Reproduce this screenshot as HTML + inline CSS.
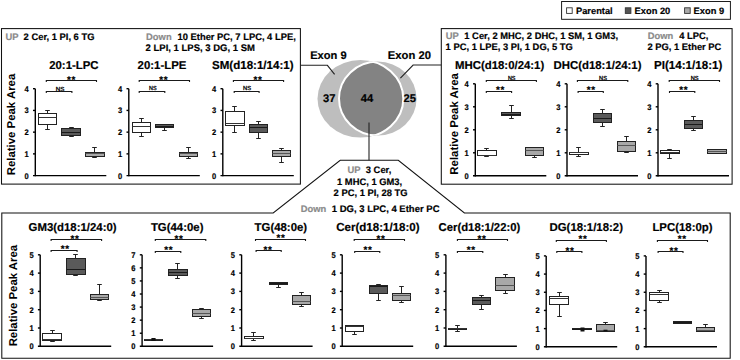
<!DOCTYPE html>
<html><head><meta charset="utf-8"><style>
html,body{margin:0;padding:0;background:#fff;width:740px;height:360px;overflow:hidden}
svg{display:block;font-family:"Liberation Sans", sans-serif;text-rendering:geometricPrecision}
</style></head><body>
<svg width="740" height="360" viewBox="0 0 740 360">
<rect width="740" height="360" fill="#fff"/>
<rect x="1.50" y="28.60" width="298.90" height="155.50" fill="none" stroke="#111" stroke-width="1.05"/>
<rect x="441.30" y="28.60" width="290.80" height="155.60" fill="none" stroke="#111" stroke-width="1.05"/>
<polygon points="1.80,212.90 273.20,212.90 340.20,160.30 398.30,160.30 464.40,212.90 730.20,212.90 730.20,358.30 1.80,358.30" fill="none" stroke="#111" stroke-width="1.05"/>
<rect x="561.60" y="1.50" width="168.80" height="17.80" fill="none" stroke="#111" stroke-width="0.95"/>
<rect x="566.60" y="7.80" width="5.60" height="5.60" fill="#fff" stroke="#333" stroke-width="0.9"/>
<text x="576.0" y="13.6" font-size="9.3" font-weight="bold" fill="#000" stroke="#000" stroke-width="0.18">Parental</text>
<rect x="625.30" y="7.80" width="5.60" height="5.60" fill="#555" stroke="#333" stroke-width="0.9"/>
<text x="634.6" y="13.6" font-size="9.3" font-weight="bold" fill="#000" stroke="#000" stroke-width="0.18">Exon 20</text>
<rect x="684.60" y="7.80" width="5.60" height="5.60" fill="#aaa" stroke="#333" stroke-width="0.9"/>
<text x="693.6" y="13.6" font-size="9.3" font-weight="bold" fill="#000" stroke="#000" stroke-width="0.18">Exon 9</text>
<text x="5.6" y="39.5" font-size="9.4" font-weight="bold" fill="#8a8a8a" stroke="#8a8a8a" stroke-width="0.18">UP</text>
<text x="23.6" y="39.6" font-size="9.4" font-weight="bold" fill="#000" stroke="#000" stroke-width="0.18">2 Cer, 1 PI, 6 TG</text>
<text x="146.1" y="39.5" font-size="9.4" font-weight="bold" fill="#8a8a8a" stroke="#8a8a8a" stroke-width="0.18">Down</text>
<text x="177.5" y="39.6" font-size="9.4" font-weight="bold" fill="#000" stroke="#000" stroke-width="0.18">10 Ether PC, 7 LPC, 4 LPE,</text>
<text x="145.6" y="51.0" font-size="9.5" font-weight="bold" fill="#000" stroke="#000" stroke-width="0.18">2 LPI, 1 LPS, 3 DG, 1 SM</text>
<text x="445.8" y="38.7" font-size="9.4" font-weight="bold" fill="#8a8a8a" stroke="#8a8a8a" stroke-width="0.18">UP</text>
<text x="464.3" y="38.8" font-size="9.4" font-weight="bold" fill="#000" stroke="#000" stroke-width="0.18">1 Cer, 2 MHC, 2 DHC, 1 SM, 1 GM3,</text>
<text x="445.6" y="50.2" font-size="9.4" font-weight="bold" fill="#000" stroke="#000" stroke-width="0.18">1 PC, 1 LPE, 3 PI, 1 DG, 5 TG</text>
<text x="647.8" y="38.6" font-size="9.4" font-weight="bold" fill="#8a8a8a" stroke="#8a8a8a" stroke-width="0.18">Down</text>
<text x="679.2" y="38.6" font-size="9.4" font-weight="bold" fill="#000" stroke="#000" stroke-width="0.18">4 LPC,</text>
<text x="647.4" y="50.2" font-size="9.4" font-weight="bold" fill="#000" stroke="#000" stroke-width="0.18">2 PG, 1 Ether PC</text>
<text x="0" y="0" font-size="11.4" font-weight="bold" text-anchor="middle" transform="translate(15.4,124.5) rotate(-90)">Relative Peak Area</text>
<text x="0" y="0" font-size="11.4" font-weight="bold" text-anchor="middle" transform="translate(458.2,123.9) rotate(-90)">Relative Peak Area</text>
<text x="0" y="0" font-size="11.4" font-weight="bold" text-anchor="middle" transform="translate(16.6,295.6) rotate(-90)">Relative Peak Area</text>
<line x1="35.3" y1="88.7" x2="35.3" y2="176.2" stroke="#000" stroke-width="1.4"/>
<line x1="33.0" y1="175.6" x2="106.3" y2="175.6" stroke="#000" stroke-width="1.4"/>
<text x="28.7" y="178.5" font-size="8.2" font-weight="bold" fill="#000" stroke="#000" stroke-width="0.18" text-anchor="end" textLength="4.2" lengthAdjust="spacingAndGlyphs">0</text>
<line x1="33.0" y1="153.875" x2="35.3" y2="153.875" stroke="#000" stroke-width="1.4"/>
<text x="28.7" y="156.78" font-size="8.2" font-weight="bold" fill="#000" stroke="#000" stroke-width="0.18" text-anchor="end" textLength="4.2" lengthAdjust="spacingAndGlyphs">1</text>
<line x1="33.0" y1="132.15" x2="35.3" y2="132.15" stroke="#000" stroke-width="1.4"/>
<text x="28.7" y="135.05" font-size="8.2" font-weight="bold" fill="#000" stroke="#000" stroke-width="0.18" text-anchor="end" textLength="4.2" lengthAdjust="spacingAndGlyphs">2</text>
<line x1="33.0" y1="110.425" x2="35.3" y2="110.425" stroke="#000" stroke-width="1.4"/>
<text x="28.7" y="113.33" font-size="8.2" font-weight="bold" fill="#000" stroke="#000" stroke-width="0.18" text-anchor="end" textLength="4.2" lengthAdjust="spacingAndGlyphs">3</text>
<line x1="33.0" y1="88.7" x2="35.3" y2="88.7" stroke="#000" stroke-width="1.4"/>
<text x="28.7" y="91.6" font-size="8.2" font-weight="bold" fill="#000" stroke="#000" stroke-width="0.18" text-anchor="end" textLength="4.2" lengthAdjust="spacingAndGlyphs">4</text>
<line x1="47.5" y1="110.5" x2="47.5" y2="113.5" stroke="#222" stroke-width="1"/>
<line x1="47.5" y1="124.5" x2="47.5" y2="129.5" stroke="#222" stroke-width="1"/>
<line x1="45.2" y1="110.5" x2="49.8" y2="110.5" stroke="#222" stroke-width="1"/>
<line x1="45.2" y1="129.5" x2="49.8" y2="129.5" stroke="#222" stroke-width="1"/>
<rect x="38.50" y="113.50" width="18.00" height="11.00" fill="#ffffff" stroke="#222" stroke-width="1"/>
<line x1="38.5" y1="117.5" x2="56.5" y2="117.5" stroke="#333" stroke-width="1"/>
<line x1="71.5" y1="127.5" x2="71.5" y2="128.5" stroke="#222" stroke-width="1"/>
<line x1="71.5" y1="135.5" x2="71.5" y2="136.5" stroke="#222" stroke-width="1"/>
<line x1="69.2" y1="127.5" x2="73.8" y2="127.5" stroke="#222" stroke-width="1"/>
<line x1="69.2" y1="136.5" x2="73.8" y2="136.5" stroke="#222" stroke-width="1"/>
<rect x="61.50" y="128.50" width="19.00" height="7.00" fill="#5a5a5a" stroke="#222" stroke-width="1"/>
<line x1="61.5" y1="132.5" x2="80.5" y2="132.5" stroke="#1a1a1a" stroke-width="1"/>
<line x1="94.5" y1="147.5" x2="94.5" y2="152.5" stroke="#222" stroke-width="1"/>
<line x1="94.5" y1="156.5" x2="94.5" y2="157.5" stroke="#222" stroke-width="1"/>
<line x1="92.2" y1="147.5" x2="96.8" y2="147.5" stroke="#222" stroke-width="1"/>
<line x1="92.2" y1="157.5" x2="96.8" y2="157.5" stroke="#222" stroke-width="1"/>
<rect x="85.50" y="152.50" width="19.00" height="4.00" fill="#a8a8a8" stroke="#222" stroke-width="1"/>
<line x1="85.5" y1="153.5" x2="104.5" y2="153.5" stroke="#555" stroke-width="1"/>
<polyline points="46.30,82.10 46.30,80.50 96.50,80.50 96.50,82.10" fill="none" stroke="#1a1a1a" stroke-width="1.1"/>
<text x="68.85" y="83.01" font-size="9.8" font-weight="bold" fill="#000" stroke="#000" stroke-width="0.18" text-anchor="middle">*</text>
<text x="73.35" y="83.01" font-size="9.8" font-weight="bold" fill="#000" stroke="#000" stroke-width="0.18" text-anchor="middle">*</text>
<polyline points="46.30,93.10 46.30,91.50 71.90,91.50 71.90,93.10" fill="none" stroke="#1a1a1a" stroke-width="1.1"/>
<text x="60.0" y="90.5" font-size="5.8" fill="#000" stroke="#000" stroke-width="0.3" text-anchor="middle" textLength="8.6" lengthAdjust="spacingAndGlyphs">NS</text>
<text x="49.2" y="69.0" font-size="11.4" font-weight="bold" fill="#000" stroke="#000" stroke-width="0.18">20:1-LPC</text>
<line x1="128.8" y1="88.7" x2="128.8" y2="176.2" stroke="#000" stroke-width="1.4"/>
<line x1="126.50000000000001" y1="175.6" x2="199.8" y2="175.6" stroke="#000" stroke-width="1.4"/>
<text x="122.2" y="178.5" font-size="8.2" font-weight="bold" fill="#000" stroke="#000" stroke-width="0.18" text-anchor="end" textLength="4.2" lengthAdjust="spacingAndGlyphs">0</text>
<line x1="126.50000000000001" y1="153.875" x2="128.8" y2="153.875" stroke="#000" stroke-width="1.4"/>
<text x="122.2" y="156.78" font-size="8.2" font-weight="bold" fill="#000" stroke="#000" stroke-width="0.18" text-anchor="end" textLength="4.2" lengthAdjust="spacingAndGlyphs">1</text>
<line x1="126.50000000000001" y1="132.15" x2="128.8" y2="132.15" stroke="#000" stroke-width="1.4"/>
<text x="122.2" y="135.05" font-size="8.2" font-weight="bold" fill="#000" stroke="#000" stroke-width="0.18" text-anchor="end" textLength="4.2" lengthAdjust="spacingAndGlyphs">2</text>
<line x1="126.50000000000001" y1="110.425" x2="128.8" y2="110.425" stroke="#000" stroke-width="1.4"/>
<text x="122.2" y="113.33" font-size="8.2" font-weight="bold" fill="#000" stroke="#000" stroke-width="0.18" text-anchor="end" textLength="4.2" lengthAdjust="spacingAndGlyphs">3</text>
<line x1="126.50000000000001" y1="88.7" x2="128.8" y2="88.7" stroke="#000" stroke-width="1.4"/>
<text x="122.2" y="91.6" font-size="8.2" font-weight="bold" fill="#000" stroke="#000" stroke-width="0.18" text-anchor="end" textLength="4.2" lengthAdjust="spacingAndGlyphs">4</text>
<line x1="141.5" y1="118.5" x2="141.5" y2="122.5" stroke="#222" stroke-width="1"/>
<line x1="141.5" y1="132.5" x2="141.5" y2="136.5" stroke="#222" stroke-width="1"/>
<line x1="139.2" y1="118.5" x2="143.8" y2="118.5" stroke="#222" stroke-width="1"/>
<line x1="139.2" y1="136.5" x2="143.8" y2="136.5" stroke="#222" stroke-width="1"/>
<rect x="132.50" y="122.50" width="18.00" height="10.00" fill="#ffffff" stroke="#222" stroke-width="1"/>
<line x1="132.5" y1="126.5" x2="150.5" y2="126.5" stroke="#333" stroke-width="1"/>
<line x1="164.5" y1="124.5" x2="164.5" y2="124.5" stroke="#222" stroke-width="1"/>
<line x1="164.5" y1="127.5" x2="164.5" y2="130.5" stroke="#222" stroke-width="1"/>
<line x1="162.2" y1="124.5" x2="166.8" y2="124.5" stroke="#222" stroke-width="1"/>
<line x1="162.2" y1="130.5" x2="166.8" y2="130.5" stroke="#222" stroke-width="1"/>
<rect x="155.50" y="124.50" width="18.00" height="3.00" fill="#5a5a5a" stroke="#222" stroke-width="1"/>
<line x1="155.5" y1="126.5" x2="173.5" y2="126.5" stroke="#1a1a1a" stroke-width="1"/>
<line x1="188.5" y1="147.5" x2="188.5" y2="152.5" stroke="#222" stroke-width="1"/>
<line x1="188.5" y1="156.5" x2="188.5" y2="158.5" stroke="#222" stroke-width="1"/>
<line x1="186.2" y1="147.5" x2="190.8" y2="147.5" stroke="#222" stroke-width="1"/>
<line x1="186.2" y1="158.5" x2="190.8" y2="158.5" stroke="#222" stroke-width="1"/>
<rect x="179.50" y="152.50" width="18.00" height="4.00" fill="#a8a8a8" stroke="#222" stroke-width="1"/>
<line x1="179.5" y1="153.5" x2="197.5" y2="153.5" stroke="#555" stroke-width="1"/>
<polyline points="139.20,82.10 139.20,80.50 189.50,80.50 189.50,82.10" fill="none" stroke="#1a1a1a" stroke-width="1.1"/>
<text x="161.1" y="82.91" font-size="9.8" font-weight="bold" fill="#000" stroke="#000" stroke-width="0.18" text-anchor="middle">*</text>
<text x="165.6" y="82.91" font-size="9.8" font-weight="bold" fill="#000" stroke="#000" stroke-width="0.18" text-anchor="middle">*</text>
<polyline points="139.20,93.10 139.20,91.50 164.80,91.50 164.80,93.10" fill="none" stroke="#1a1a1a" stroke-width="1.1"/>
<text x="152.85" y="90.4" font-size="5.8" fill="#000" stroke="#000" stroke-width="0.3" text-anchor="middle" textLength="7.5" lengthAdjust="spacingAndGlyphs">NS</text>
<text x="137.6" y="69.0" font-size="11.4" font-weight="bold" fill="#000" stroke="#000" stroke-width="0.18">20:1-LPE</text>
<line x1="222.8" y1="88.7" x2="222.8" y2="176.2" stroke="#000" stroke-width="1.4"/>
<line x1="220.5" y1="175.6" x2="293.8" y2="175.6" stroke="#000" stroke-width="1.4"/>
<text x="216.2" y="178.5" font-size="8.2" font-weight="bold" fill="#000" stroke="#000" stroke-width="0.18" text-anchor="end" textLength="4.2" lengthAdjust="spacingAndGlyphs">0</text>
<line x1="220.5" y1="153.875" x2="222.8" y2="153.875" stroke="#000" stroke-width="1.4"/>
<text x="216.2" y="156.78" font-size="8.2" font-weight="bold" fill="#000" stroke="#000" stroke-width="0.18" text-anchor="end" textLength="4.2" lengthAdjust="spacingAndGlyphs">1</text>
<line x1="220.5" y1="132.15" x2="222.8" y2="132.15" stroke="#000" stroke-width="1.4"/>
<text x="216.2" y="135.05" font-size="8.2" font-weight="bold" fill="#000" stroke="#000" stroke-width="0.18" text-anchor="end" textLength="4.2" lengthAdjust="spacingAndGlyphs">2</text>
<line x1="220.5" y1="110.425" x2="222.8" y2="110.425" stroke="#000" stroke-width="1.4"/>
<text x="216.2" y="113.33" font-size="8.2" font-weight="bold" fill="#000" stroke="#000" stroke-width="0.18" text-anchor="end" textLength="4.2" lengthAdjust="spacingAndGlyphs">3</text>
<line x1="220.5" y1="88.7" x2="222.8" y2="88.7" stroke="#000" stroke-width="1.4"/>
<text x="216.2" y="91.6" font-size="8.2" font-weight="bold" fill="#000" stroke="#000" stroke-width="0.18" text-anchor="end" textLength="4.2" lengthAdjust="spacingAndGlyphs">4</text>
<line x1="234.5" y1="106.5" x2="234.5" y2="111.5" stroke="#222" stroke-width="1"/>
<line x1="234.5" y1="125.5" x2="234.5" y2="132.5" stroke="#222" stroke-width="1"/>
<line x1="232.2" y1="106.5" x2="236.8" y2="106.5" stroke="#222" stroke-width="1"/>
<line x1="232.2" y1="132.5" x2="236.8" y2="132.5" stroke="#222" stroke-width="1"/>
<rect x="225.50" y="111.50" width="19.00" height="14.00" fill="#ffffff" stroke="#222" stroke-width="1"/>
<line x1="225.5" y1="123.5" x2="244.5" y2="123.5" stroke="#333" stroke-width="1"/>
<line x1="258.5" y1="121.5" x2="258.5" y2="124.5" stroke="#222" stroke-width="1"/>
<line x1="258.5" y1="132.5" x2="258.5" y2="138.5" stroke="#222" stroke-width="1"/>
<line x1="256.2" y1="121.5" x2="260.8" y2="121.5" stroke="#222" stroke-width="1"/>
<line x1="256.2" y1="138.5" x2="260.8" y2="138.5" stroke="#222" stroke-width="1"/>
<rect x="249.50" y="124.50" width="18.00" height="8.00" fill="#5a5a5a" stroke="#222" stroke-width="1"/>
<line x1="249.5" y1="127.5" x2="267.5" y2="127.5" stroke="#1a1a1a" stroke-width="1"/>
<line x1="281.5" y1="148.5" x2="281.5" y2="150.5" stroke="#222" stroke-width="1"/>
<line x1="281.5" y1="156.5" x2="281.5" y2="162.5" stroke="#222" stroke-width="1"/>
<line x1="279.2" y1="148.5" x2="283.8" y2="148.5" stroke="#222" stroke-width="1"/>
<line x1="279.2" y1="162.5" x2="283.8" y2="162.5" stroke="#222" stroke-width="1"/>
<rect x="272.50" y="150.50" width="18.00" height="6.00" fill="#a8a8a8" stroke="#222" stroke-width="1"/>
<line x1="272.5" y1="153.5" x2="290.5" y2="153.5" stroke="#555" stroke-width="1"/>
<polyline points="233.40,82.10 233.40,80.50 283.60,80.50 283.60,82.10" fill="none" stroke="#1a1a1a" stroke-width="1.1"/>
<text x="255.3" y="82.91" font-size="9.8" font-weight="bold" fill="#000" stroke="#000" stroke-width="0.18" text-anchor="middle">*</text>
<text x="259.8" y="82.91" font-size="9.8" font-weight="bold" fill="#000" stroke="#000" stroke-width="0.18" text-anchor="middle">*</text>
<polyline points="234.20,93.10 234.20,91.50 259.10,91.50 259.10,93.10" fill="none" stroke="#1a1a1a" stroke-width="1.1"/>
<text x="247.1" y="90.4" font-size="5.8" fill="#000" stroke="#000" stroke-width="0.3" text-anchor="middle" textLength="8.0" lengthAdjust="spacingAndGlyphs">NS</text>
<text x="212.0" y="69.0" font-size="11.55" font-weight="bold" fill="#000" stroke="#000" stroke-width="0.18">SM(d18:1/14:1)</text>
<line x1="475.3" y1="83.8" x2="475.3" y2="176.4" stroke="#000" stroke-width="1.4"/>
<line x1="473.0" y1="175.8" x2="546.3" y2="175.8" stroke="#000" stroke-width="1.4"/>
<text x="468.7" y="178.7" font-size="8.2" font-weight="bold" fill="#000" stroke="#000" stroke-width="0.18" text-anchor="end" textLength="4.2" lengthAdjust="spacingAndGlyphs">0</text>
<line x1="473.0" y1="152.8" x2="475.3" y2="152.8" stroke="#000" stroke-width="1.4"/>
<text x="468.7" y="155.7" font-size="8.2" font-weight="bold" fill="#000" stroke="#000" stroke-width="0.18" text-anchor="end" textLength="4.2" lengthAdjust="spacingAndGlyphs">1</text>
<line x1="473.0" y1="129.8" x2="475.3" y2="129.8" stroke="#000" stroke-width="1.4"/>
<text x="468.7" y="132.7" font-size="8.2" font-weight="bold" fill="#000" stroke="#000" stroke-width="0.18" text-anchor="end" textLength="4.2" lengthAdjust="spacingAndGlyphs">2</text>
<line x1="473.0" y1="106.8" x2="475.3" y2="106.8" stroke="#000" stroke-width="1.4"/>
<text x="468.7" y="109.7" font-size="8.2" font-weight="bold" fill="#000" stroke="#000" stroke-width="0.18" text-anchor="end" textLength="4.2" lengthAdjust="spacingAndGlyphs">3</text>
<line x1="473.0" y1="83.8" x2="475.3" y2="83.8" stroke="#000" stroke-width="1.4"/>
<text x="468.7" y="86.7" font-size="8.2" font-weight="bold" fill="#000" stroke="#000" stroke-width="0.18" text-anchor="end" textLength="4.2" lengthAdjust="spacingAndGlyphs">4</text>
<line x1="486.5" y1="148.5" x2="486.5" y2="150.5" stroke="#222" stroke-width="1"/>
<line x1="486.5" y1="155.5" x2="486.5" y2="156.5" stroke="#222" stroke-width="1"/>
<line x1="484.2" y1="148.5" x2="488.8" y2="148.5" stroke="#222" stroke-width="1"/>
<line x1="484.2" y1="156.5" x2="488.8" y2="156.5" stroke="#222" stroke-width="1"/>
<rect x="477.50" y="150.50" width="19.00" height="5.00" fill="#ffffff" stroke="#222" stroke-width="1"/>
<line x1="477.5" y1="155.5" x2="496.5" y2="155.5" stroke="#333" stroke-width="1"/>
<line x1="511.5" y1="105.5" x2="511.5" y2="112.5" stroke="#222" stroke-width="1"/>
<line x1="511.5" y1="115.5" x2="511.5" y2="118.5" stroke="#222" stroke-width="1"/>
<line x1="509.2" y1="105.5" x2="513.8" y2="105.5" stroke="#222" stroke-width="1"/>
<line x1="509.2" y1="118.5" x2="513.8" y2="118.5" stroke="#222" stroke-width="1"/>
<rect x="501.50" y="112.50" width="19.00" height="3.00" fill="#5a5a5a" stroke="#222" stroke-width="1"/>
<line x1="501.5" y1="114.5" x2="520.5" y2="114.5" stroke="#1a1a1a" stroke-width="1"/>
<line x1="534.5" y1="147.5" x2="534.5" y2="147.5" stroke="#222" stroke-width="1"/>
<line x1="534.5" y1="155.5" x2="534.5" y2="157.5" stroke="#222" stroke-width="1"/>
<line x1="532.2" y1="147.5" x2="536.8" y2="147.5" stroke="#222" stroke-width="1"/>
<line x1="532.2" y1="157.5" x2="536.8" y2="157.5" stroke="#222" stroke-width="1"/>
<rect x="525.50" y="147.50" width="18.00" height="8.00" fill="#a8a8a8" stroke="#222" stroke-width="1"/>
<line x1="525.5" y1="150.5" x2="543.5" y2="150.5" stroke="#555" stroke-width="1"/>
<polyline points="486.30,82.10 486.30,80.50 536.40,80.50 536.40,82.10" fill="none" stroke="#1a1a1a" stroke-width="1.1"/>
<text x="511.65" y="79.6" font-size="5.8" fill="#000" stroke="#000" stroke-width="0.3" text-anchor="middle" textLength="7.5" lengthAdjust="spacingAndGlyphs">NS</text>
<polyline points="486.30,93.10 486.30,91.50 511.60,91.50 511.60,93.10" fill="none" stroke="#1a1a1a" stroke-width="1.1"/>
<text x="498.0" y="92.91" font-size="9.8" font-weight="bold" fill="#000" stroke="#000" stroke-width="0.18" text-anchor="middle">*</text>
<text x="502.5" y="92.91" font-size="9.8" font-weight="bold" fill="#000" stroke="#000" stroke-width="0.18" text-anchor="middle">*</text>
<text x="455.0" y="69.0" font-size="11.4" font-weight="bold" fill="#000" stroke="#000" stroke-width="0.18">MHC(d18:0/24:1)</text>
<line x1="567.0" y1="83.8" x2="567.0" y2="176.4" stroke="#000" stroke-width="1.4"/>
<line x1="564.7" y1="175.8" x2="638.0" y2="175.8" stroke="#000" stroke-width="1.4"/>
<text x="560.4" y="178.7" font-size="8.2" font-weight="bold" fill="#000" stroke="#000" stroke-width="0.18" text-anchor="end" textLength="4.2" lengthAdjust="spacingAndGlyphs">0</text>
<line x1="564.7" y1="152.8" x2="567.0" y2="152.8" stroke="#000" stroke-width="1.4"/>
<text x="560.4" y="155.7" font-size="8.2" font-weight="bold" fill="#000" stroke="#000" stroke-width="0.18" text-anchor="end" textLength="4.2" lengthAdjust="spacingAndGlyphs">1</text>
<line x1="564.7" y1="129.8" x2="567.0" y2="129.8" stroke="#000" stroke-width="1.4"/>
<text x="560.4" y="132.7" font-size="8.2" font-weight="bold" fill="#000" stroke="#000" stroke-width="0.18" text-anchor="end" textLength="4.2" lengthAdjust="spacingAndGlyphs">2</text>
<line x1="564.7" y1="106.8" x2="567.0" y2="106.8" stroke="#000" stroke-width="1.4"/>
<text x="560.4" y="109.7" font-size="8.2" font-weight="bold" fill="#000" stroke="#000" stroke-width="0.18" text-anchor="end" textLength="4.2" lengthAdjust="spacingAndGlyphs">3</text>
<line x1="564.7" y1="83.8" x2="567.0" y2="83.8" stroke="#000" stroke-width="1.4"/>
<text x="560.4" y="86.7" font-size="8.2" font-weight="bold" fill="#000" stroke="#000" stroke-width="0.18" text-anchor="end" textLength="4.2" lengthAdjust="spacingAndGlyphs">4</text>
<line x1="578.5" y1="147.5" x2="578.5" y2="152.5" stroke="#222" stroke-width="1"/>
<line x1="578.5" y1="154.5" x2="578.5" y2="156.5" stroke="#222" stroke-width="1"/>
<line x1="576.2" y1="147.5" x2="580.8" y2="147.5" stroke="#222" stroke-width="1"/>
<line x1="576.2" y1="156.5" x2="580.8" y2="156.5" stroke="#222" stroke-width="1"/>
<rect x="569.50" y="152.50" width="19.00" height="2.00" fill="#ffffff" stroke="#222" stroke-width="1"/>
<line x1="569.5" y1="152.5" x2="588.5" y2="152.5" stroke="#333" stroke-width="1"/>
<line x1="602.5" y1="109.5" x2="602.5" y2="113.5" stroke="#222" stroke-width="1"/>
<line x1="602.5" y1="122.5" x2="602.5" y2="126.5" stroke="#222" stroke-width="1"/>
<line x1="600.2" y1="109.5" x2="604.8" y2="109.5" stroke="#222" stroke-width="1"/>
<line x1="600.2" y1="126.5" x2="604.8" y2="126.5" stroke="#222" stroke-width="1"/>
<rect x="593.50" y="113.50" width="18.00" height="9.00" fill="#5a5a5a" stroke="#222" stroke-width="1"/>
<line x1="593.5" y1="118.5" x2="611.5" y2="118.5" stroke="#1a1a1a" stroke-width="1"/>
<line x1="626.5" y1="136.5" x2="626.5" y2="141.5" stroke="#222" stroke-width="1"/>
<line x1="626.5" y1="151.5" x2="626.5" y2="152.5" stroke="#222" stroke-width="1"/>
<line x1="624.2" y1="136.5" x2="628.8" y2="136.5" stroke="#222" stroke-width="1"/>
<line x1="624.2" y1="152.5" x2="628.8" y2="152.5" stroke="#222" stroke-width="1"/>
<rect x="617.50" y="141.50" width="18.00" height="10.00" fill="#a8a8a8" stroke="#222" stroke-width="1"/>
<line x1="617.5" y1="145.5" x2="635.5" y2="145.5" stroke="#555" stroke-width="1"/>
<polyline points="577.40,82.10 577.40,80.50 627.80,80.50 627.80,82.10" fill="none" stroke="#1a1a1a" stroke-width="1.1"/>
<text x="603.0" y="79.5" font-size="5.8" fill="#000" stroke="#000" stroke-width="0.3" text-anchor="middle" textLength="7.8" lengthAdjust="spacingAndGlyphs">NS</text>
<polyline points="578.10,93.10 578.10,91.50 603.30,91.50 603.30,93.10" fill="none" stroke="#1a1a1a" stroke-width="1.1"/>
<text x="588.7" y="92.91" font-size="9.8" font-weight="bold" fill="#000" stroke="#000" stroke-width="0.18" text-anchor="middle">*</text>
<text x="593.2" y="92.91" font-size="9.8" font-weight="bold" fill="#000" stroke="#000" stroke-width="0.18" text-anchor="middle">*</text>
<text x="553.5" y="69.0" font-size="11.4" font-weight="bold" fill="#000" stroke="#000" stroke-width="0.18">DHC(d18:1/24:1)</text>
<line x1="658.0" y1="83.8" x2="658.0" y2="176.4" stroke="#000" stroke-width="1.4"/>
<line x1="655.7" y1="175.8" x2="729.0" y2="175.8" stroke="#000" stroke-width="1.4"/>
<text x="651.4" y="178.7" font-size="8.2" font-weight="bold" fill="#000" stroke="#000" stroke-width="0.18" text-anchor="end" textLength="4.2" lengthAdjust="spacingAndGlyphs">0</text>
<line x1="655.7" y1="152.8" x2="658.0" y2="152.8" stroke="#000" stroke-width="1.4"/>
<text x="651.4" y="155.7" font-size="8.2" font-weight="bold" fill="#000" stroke="#000" stroke-width="0.18" text-anchor="end" textLength="4.2" lengthAdjust="spacingAndGlyphs">1</text>
<line x1="655.7" y1="129.8" x2="658.0" y2="129.8" stroke="#000" stroke-width="1.4"/>
<text x="651.4" y="132.7" font-size="8.2" font-weight="bold" fill="#000" stroke="#000" stroke-width="0.18" text-anchor="end" textLength="4.2" lengthAdjust="spacingAndGlyphs">2</text>
<line x1="655.7" y1="106.8" x2="658.0" y2="106.8" stroke="#000" stroke-width="1.4"/>
<text x="651.4" y="109.7" font-size="8.2" font-weight="bold" fill="#000" stroke="#000" stroke-width="0.18" text-anchor="end" textLength="4.2" lengthAdjust="spacingAndGlyphs">3</text>
<line x1="655.7" y1="83.8" x2="658.0" y2="83.8" stroke="#000" stroke-width="1.4"/>
<text x="651.4" y="86.7" font-size="8.2" font-weight="bold" fill="#000" stroke="#000" stroke-width="0.18" text-anchor="end" textLength="4.2" lengthAdjust="spacingAndGlyphs">4</text>
<line x1="669.5" y1="149.5" x2="669.5" y2="150.5" stroke="#222" stroke-width="1"/>
<line x1="669.5" y1="153.5" x2="669.5" y2="158.5" stroke="#222" stroke-width="1"/>
<line x1="667.2" y1="149.5" x2="671.8" y2="149.5" stroke="#222" stroke-width="1"/>
<line x1="667.2" y1="158.5" x2="671.8" y2="158.5" stroke="#222" stroke-width="1"/>
<rect x="660.50" y="150.50" width="19.00" height="3.00" fill="#ffffff" stroke="#222" stroke-width="1"/>
<line x1="660.5" y1="152.5" x2="679.5" y2="152.5" stroke="#333" stroke-width="1"/>
<line x1="693.5" y1="116.5" x2="693.5" y2="120.5" stroke="#222" stroke-width="1"/>
<line x1="693.5" y1="128.5" x2="693.5" y2="130.5" stroke="#222" stroke-width="1"/>
<line x1="691.2" y1="116.5" x2="695.8" y2="116.5" stroke="#222" stroke-width="1"/>
<line x1="691.2" y1="130.5" x2="695.8" y2="130.5" stroke="#222" stroke-width="1"/>
<rect x="684.50" y="120.50" width="18.00" height="8.00" fill="#5a5a5a" stroke="#222" stroke-width="1"/>
<line x1="684.5" y1="124.5" x2="702.5" y2="124.5" stroke="#1a1a1a" stroke-width="1"/>
<line x1="716.5" y1="149.5" x2="716.5" y2="149.5" stroke="#222" stroke-width="1"/>
<line x1="716.5" y1="153.5" x2="716.5" y2="153.5" stroke="#222" stroke-width="1"/>
<line x1="714.2" y1="149.5" x2="718.8" y2="149.5" stroke="#222" stroke-width="1"/>
<line x1="714.2" y1="153.5" x2="718.8" y2="153.5" stroke="#222" stroke-width="1"/>
<rect x="707.50" y="149.50" width="19.00" height="4.00" fill="#a8a8a8" stroke="#222" stroke-width="1"/>
<line x1="707.5" y1="151.5" x2="726.5" y2="151.5" stroke="#555" stroke-width="1"/>
<polyline points="669.20,82.10 669.20,80.50 719.50,80.50 719.50,82.10" fill="none" stroke="#1a1a1a" stroke-width="1.1"/>
<text x="694.6" y="79.5" font-size="5.8" fill="#000" stroke="#000" stroke-width="0.3" text-anchor="middle" textLength="7.8" lengthAdjust="spacingAndGlyphs">NS</text>
<polyline points="669.50,93.10 669.50,91.50 694.80,91.50 694.80,93.10" fill="none" stroke="#1a1a1a" stroke-width="1.1"/>
<text x="681.15" y="93.11" font-size="9.8" font-weight="bold" fill="#000" stroke="#000" stroke-width="0.18" text-anchor="middle">*</text>
<text x="685.65" y="93.11" font-size="9.8" font-weight="bold" fill="#000" stroke="#000" stroke-width="0.18" text-anchor="middle">*</text>
<text x="654.0" y="69.0" font-size="11.6" font-weight="bold" fill="#000" stroke="#000" stroke-width="0.18">PI(14:1/18:1)</text>
<line x1="40.2" y1="254.8" x2="40.2" y2="346.90000000000003" stroke="#000" stroke-width="1.4"/>
<line x1="37.900000000000006" y1="346.3" x2="111.2" y2="346.3" stroke="#000" stroke-width="1.4"/>
<text x="33.6" y="349.2" font-size="8.2" font-weight="bold" fill="#000" stroke="#000" stroke-width="0.18" text-anchor="end" textLength="4.2" lengthAdjust="spacingAndGlyphs">0</text>
<line x1="37.900000000000006" y1="328.0" x2="40.2" y2="328.0" stroke="#000" stroke-width="1.4"/>
<text x="33.6" y="330.9" font-size="8.2" font-weight="bold" fill="#000" stroke="#000" stroke-width="0.18" text-anchor="end" textLength="4.2" lengthAdjust="spacingAndGlyphs">1</text>
<line x1="37.900000000000006" y1="309.7" x2="40.2" y2="309.7" stroke="#000" stroke-width="1.4"/>
<text x="33.6" y="312.6" font-size="8.2" font-weight="bold" fill="#000" stroke="#000" stroke-width="0.18" text-anchor="end" textLength="4.2" lengthAdjust="spacingAndGlyphs">2</text>
<line x1="37.900000000000006" y1="291.4" x2="40.2" y2="291.4" stroke="#000" stroke-width="1.4"/>
<text x="33.6" y="294.3" font-size="8.2" font-weight="bold" fill="#000" stroke="#000" stroke-width="0.18" text-anchor="end" textLength="4.2" lengthAdjust="spacingAndGlyphs">3</text>
<line x1="37.900000000000006" y1="273.1" x2="40.2" y2="273.1" stroke="#000" stroke-width="1.4"/>
<text x="33.6" y="276.0" font-size="8.2" font-weight="bold" fill="#000" stroke="#000" stroke-width="0.18" text-anchor="end" textLength="4.2" lengthAdjust="spacingAndGlyphs">4</text>
<line x1="37.900000000000006" y1="254.8" x2="40.2" y2="254.8" stroke="#000" stroke-width="1.4"/>
<text x="33.6" y="257.7" font-size="8.2" font-weight="bold" fill="#000" stroke="#000" stroke-width="0.18" text-anchor="end" textLength="4.2" lengthAdjust="spacingAndGlyphs">5</text>
<line x1="52.5" y1="330.5" x2="52.5" y2="333.5" stroke="#222" stroke-width="1"/>
<line x1="52.5" y1="340.5" x2="52.5" y2="341.5" stroke="#222" stroke-width="1"/>
<line x1="50.2" y1="330.5" x2="54.8" y2="330.5" stroke="#222" stroke-width="1"/>
<line x1="50.2" y1="341.5" x2="54.8" y2="341.5" stroke="#222" stroke-width="1"/>
<rect x="42.50" y="333.50" width="19.00" height="7.00" fill="#ffffff" stroke="#222" stroke-width="1"/>
<line x1="42.5" y1="339.5" x2="61.5" y2="339.5" stroke="#333" stroke-width="1"/>
<line x1="75.5" y1="254.5" x2="75.5" y2="258.5" stroke="#222" stroke-width="1"/>
<line x1="75.5" y1="274.5" x2="75.5" y2="275.5" stroke="#222" stroke-width="1"/>
<line x1="73.2" y1="254.5" x2="77.8" y2="254.5" stroke="#222" stroke-width="1"/>
<line x1="73.2" y1="275.5" x2="77.8" y2="275.5" stroke="#222" stroke-width="1"/>
<rect x="66.50" y="258.50" width="19.00" height="16.00" fill="#5a5a5a" stroke="#222" stroke-width="1"/>
<line x1="66.5" y1="269.5" x2="85.5" y2="269.5" stroke="#1a1a1a" stroke-width="1"/>
<line x1="99.5" y1="284.5" x2="99.5" y2="294.5" stroke="#222" stroke-width="1"/>
<line x1="99.5" y1="299.5" x2="99.5" y2="300.5" stroke="#222" stroke-width="1"/>
<line x1="97.2" y1="284.5" x2="101.8" y2="284.5" stroke="#222" stroke-width="1"/>
<line x1="97.2" y1="300.5" x2="101.8" y2="300.5" stroke="#222" stroke-width="1"/>
<rect x="90.50" y="294.50" width="18.00" height="5.00" fill="#a8a8a8" stroke="#222" stroke-width="1"/>
<line x1="90.5" y1="297.5" x2="108.5" y2="297.5" stroke="#555" stroke-width="1"/>
<polyline points="51.10,241.10 51.10,239.50 101.60,239.50 101.60,241.10" fill="none" stroke="#1a1a1a" stroke-width="1.1"/>
<text x="72.35" y="241.51" font-size="9.8" font-weight="bold" fill="#000" stroke="#000" stroke-width="0.18" text-anchor="middle">*</text>
<text x="76.85" y="241.51" font-size="9.8" font-weight="bold" fill="#000" stroke="#000" stroke-width="0.18" text-anchor="middle">*</text>
<polyline points="51.10,252.10 51.10,250.50 77.10,250.50 77.10,252.10" fill="none" stroke="#1a1a1a" stroke-width="1.1"/>
<text x="62.7" y="252.11" font-size="9.8" font-weight="bold" fill="#000" stroke="#000" stroke-width="0.18" text-anchor="middle">*</text>
<text x="67.2" y="252.11" font-size="9.8" font-weight="bold" fill="#000" stroke="#000" stroke-width="0.18" text-anchor="middle">*</text>
<text x="28.6" y="230.6" font-size="11.4" font-weight="bold" fill="#000" stroke="#000" stroke-width="0.18">GM3(d18:1/24:0)</text>
<line x1="142.1" y1="254.8" x2="142.1" y2="346.90000000000003" stroke="#000" stroke-width="1.4"/>
<line x1="139.79999999999998" y1="346.3" x2="213.1" y2="346.3" stroke="#000" stroke-width="1.4"/>
<text x="135.5" y="349.2" font-size="8.2" font-weight="bold" fill="#000" stroke="#000" stroke-width="0.18" text-anchor="end" textLength="4.2" lengthAdjust="spacingAndGlyphs">0</text>
<line x1="139.79999999999998" y1="333.22857142857146" x2="142.1" y2="333.22857142857146" stroke="#000" stroke-width="1.4"/>
<text x="135.5" y="336.13" font-size="8.2" font-weight="bold" fill="#000" stroke="#000" stroke-width="0.18" text-anchor="end" textLength="4.2" lengthAdjust="spacingAndGlyphs">1</text>
<line x1="139.79999999999998" y1="320.15714285714284" x2="142.1" y2="320.15714285714284" stroke="#000" stroke-width="1.4"/>
<text x="135.5" y="323.06" font-size="8.2" font-weight="bold" fill="#000" stroke="#000" stroke-width="0.18" text-anchor="end" textLength="4.2" lengthAdjust="spacingAndGlyphs">2</text>
<line x1="139.79999999999998" y1="307.0857142857143" x2="142.1" y2="307.0857142857143" stroke="#000" stroke-width="1.4"/>
<text x="135.5" y="309.99" font-size="8.2" font-weight="bold" fill="#000" stroke="#000" stroke-width="0.18" text-anchor="end" textLength="4.2" lengthAdjust="spacingAndGlyphs">3</text>
<line x1="139.79999999999998" y1="294.01428571428573" x2="142.1" y2="294.01428571428573" stroke="#000" stroke-width="1.4"/>
<text x="135.5" y="296.91" font-size="8.2" font-weight="bold" fill="#000" stroke="#000" stroke-width="0.18" text-anchor="end" textLength="4.2" lengthAdjust="spacingAndGlyphs">4</text>
<line x1="139.79999999999998" y1="280.9428571428572" x2="142.1" y2="280.9428571428572" stroke="#000" stroke-width="1.4"/>
<text x="135.5" y="283.84" font-size="8.2" font-weight="bold" fill="#000" stroke="#000" stroke-width="0.18" text-anchor="end" textLength="4.2" lengthAdjust="spacingAndGlyphs">5</text>
<line x1="139.79999999999998" y1="267.87142857142857" x2="142.1" y2="267.87142857142857" stroke="#000" stroke-width="1.4"/>
<text x="135.5" y="270.77" font-size="8.2" font-weight="bold" fill="#000" stroke="#000" stroke-width="0.18" text-anchor="end" textLength="4.2" lengthAdjust="spacingAndGlyphs">6</text>
<line x1="139.79999999999998" y1="254.8" x2="142.1" y2="254.8" stroke="#000" stroke-width="1.4"/>
<text x="135.5" y="257.7" font-size="8.2" font-weight="bold" fill="#000" stroke="#000" stroke-width="0.18" text-anchor="end" textLength="4.2" lengthAdjust="spacingAndGlyphs">7</text>
<line x1="153.5" y1="339.5" x2="153.5" y2="339.5" stroke="#222" stroke-width="1"/>
<line x1="153.5" y1="340.5" x2="153.5" y2="340.5" stroke="#222" stroke-width="1"/>
<line x1="151.2" y1="339.5" x2="155.8" y2="339.5" stroke="#222" stroke-width="1"/>
<line x1="151.2" y1="340.5" x2="155.8" y2="340.5" stroke="#222" stroke-width="1"/>
<rect x="144.50" y="339.50" width="18.00" height="1.00" fill="#ffffff" stroke="#222" stroke-width="1"/>
<line x1="144.5" y1="339.5" x2="162.5" y2="339.5" stroke="#333" stroke-width="1"/>
<rect x="151.40" y="338.00" width="4.2" height="3.0" fill="#111"/>
<line x1="177.5" y1="263.5" x2="177.5" y2="269.5" stroke="#222" stroke-width="1"/>
<line x1="177.5" y1="275.5" x2="177.5" y2="278.5" stroke="#222" stroke-width="1"/>
<line x1="175.2" y1="263.5" x2="179.8" y2="263.5" stroke="#222" stroke-width="1"/>
<line x1="175.2" y1="278.5" x2="179.8" y2="278.5" stroke="#222" stroke-width="1"/>
<rect x="168.50" y="269.50" width="19.00" height="6.00" fill="#5a5a5a" stroke="#222" stroke-width="1"/>
<line x1="168.5" y1="272.5" x2="187.5" y2="272.5" stroke="#1a1a1a" stroke-width="1"/>
<line x1="201.5" y1="308.5" x2="201.5" y2="309.5" stroke="#222" stroke-width="1"/>
<line x1="201.5" y1="316.5" x2="201.5" y2="318.5" stroke="#222" stroke-width="1"/>
<line x1="199.2" y1="308.5" x2="203.8" y2="308.5" stroke="#222" stroke-width="1"/>
<line x1="199.2" y1="318.5" x2="203.8" y2="318.5" stroke="#222" stroke-width="1"/>
<rect x="192.50" y="309.50" width="18.00" height="7.00" fill="#a8a8a8" stroke="#222" stroke-width="1"/>
<line x1="192.5" y1="313.5" x2="210.5" y2="313.5" stroke="#555" stroke-width="1"/>
<polyline points="155.30,241.10 155.30,239.50 205.80,239.50 205.80,241.10" fill="none" stroke="#1a1a1a" stroke-width="1.1"/>
<text x="176.5" y="241.71" font-size="9.8" font-weight="bold" fill="#000" stroke="#000" stroke-width="0.18" text-anchor="middle">*</text>
<text x="181.0" y="241.71" font-size="9.8" font-weight="bold" fill="#000" stroke="#000" stroke-width="0.18" text-anchor="middle">*</text>
<polyline points="155.30,253.10 155.30,251.50 180.80,251.50 180.80,253.10" fill="none" stroke="#1a1a1a" stroke-width="1.1"/>
<text x="166.2" y="253.11" font-size="9.8" font-weight="bold" fill="#000" stroke="#000" stroke-width="0.18" text-anchor="middle">*</text>
<text x="170.7" y="253.11" font-size="9.8" font-weight="bold" fill="#000" stroke="#000" stroke-width="0.18" text-anchor="middle">*</text>
<text x="150.9" y="230.6" font-size="11.4" font-weight="bold" fill="#000" stroke="#000" stroke-width="0.18">TG(44:0e)</text>
<line x1="241.6" y1="254.8" x2="241.6" y2="346.90000000000003" stroke="#000" stroke-width="1.4"/>
<line x1="239.29999999999998" y1="346.3" x2="312.6" y2="346.3" stroke="#000" stroke-width="1.4"/>
<text x="235.0" y="349.2" font-size="8.2" font-weight="bold" fill="#000" stroke="#000" stroke-width="0.18" text-anchor="end" textLength="4.2" lengthAdjust="spacingAndGlyphs">0</text>
<line x1="239.29999999999998" y1="328.0" x2="241.6" y2="328.0" stroke="#000" stroke-width="1.4"/>
<text x="235.0" y="330.9" font-size="8.2" font-weight="bold" fill="#000" stroke="#000" stroke-width="0.18" text-anchor="end" textLength="4.2" lengthAdjust="spacingAndGlyphs">1</text>
<line x1="239.29999999999998" y1="309.7" x2="241.6" y2="309.7" stroke="#000" stroke-width="1.4"/>
<text x="235.0" y="312.6" font-size="8.2" font-weight="bold" fill="#000" stroke="#000" stroke-width="0.18" text-anchor="end" textLength="4.2" lengthAdjust="spacingAndGlyphs">2</text>
<line x1="239.29999999999998" y1="291.4" x2="241.6" y2="291.4" stroke="#000" stroke-width="1.4"/>
<text x="235.0" y="294.3" font-size="8.2" font-weight="bold" fill="#000" stroke="#000" stroke-width="0.18" text-anchor="end" textLength="4.2" lengthAdjust="spacingAndGlyphs">3</text>
<line x1="239.29999999999998" y1="273.1" x2="241.6" y2="273.1" stroke="#000" stroke-width="1.4"/>
<text x="235.0" y="276.0" font-size="8.2" font-weight="bold" fill="#000" stroke="#000" stroke-width="0.18" text-anchor="end" textLength="4.2" lengthAdjust="spacingAndGlyphs">4</text>
<line x1="239.29999999999998" y1="254.8" x2="241.6" y2="254.8" stroke="#000" stroke-width="1.4"/>
<text x="235.0" y="257.7" font-size="8.2" font-weight="bold" fill="#000" stroke="#000" stroke-width="0.18" text-anchor="end" textLength="4.2" lengthAdjust="spacingAndGlyphs">5</text>
<line x1="253.5" y1="332.5" x2="253.5" y2="336.5" stroke="#222" stroke-width="1"/>
<line x1="253.5" y1="338.5" x2="253.5" y2="340.5" stroke="#222" stroke-width="1"/>
<line x1="251.2" y1="332.5" x2="255.8" y2="332.5" stroke="#222" stroke-width="1"/>
<line x1="251.2" y1="340.5" x2="255.8" y2="340.5" stroke="#222" stroke-width="1"/>
<rect x="244.50" y="336.50" width="19.00" height="2.00" fill="#ffffff" stroke="#222" stroke-width="1"/>
<line x1="244.5" y1="338.5" x2="263.5" y2="338.5" stroke="#333" stroke-width="1"/>
<line x1="278.5" y1="282.5" x2="278.5" y2="282.5" stroke="#222" stroke-width="1"/>
<line x1="278.5" y1="284.5" x2="278.5" y2="287.5" stroke="#222" stroke-width="1"/>
<line x1="276.2" y1="282.5" x2="280.8" y2="282.5" stroke="#222" stroke-width="1"/>
<line x1="276.2" y1="287.5" x2="280.8" y2="287.5" stroke="#222" stroke-width="1"/>
<rect x="269.50" y="282.50" width="18.00" height="2.00" fill="#5a5a5a" stroke="#222" stroke-width="1"/>
<line x1="269.5" y1="283.5" x2="287.5" y2="283.5" stroke="#1a1a1a" stroke-width="1"/>
<line x1="301.5" y1="292.5" x2="301.5" y2="295.5" stroke="#222" stroke-width="1"/>
<line x1="301.5" y1="304.5" x2="301.5" y2="306.5" stroke="#222" stroke-width="1"/>
<line x1="299.2" y1="292.5" x2="303.8" y2="292.5" stroke="#222" stroke-width="1"/>
<line x1="299.2" y1="306.5" x2="303.8" y2="306.5" stroke="#222" stroke-width="1"/>
<rect x="292.50" y="295.50" width="18.00" height="9.00" fill="#a8a8a8" stroke="#222" stroke-width="1"/>
<line x1="292.5" y1="301.5" x2="310.5" y2="301.5" stroke="#555" stroke-width="1"/>
<polyline points="255.50,241.10 255.50,239.50 305.50,239.50 305.50,241.10" fill="none" stroke="#1a1a1a" stroke-width="1.1"/>
<text x="278.45" y="241.41" font-size="9.8" font-weight="bold" fill="#000" stroke="#000" stroke-width="0.18" text-anchor="middle">*</text>
<text x="282.95" y="241.41" font-size="9.8" font-weight="bold" fill="#000" stroke="#000" stroke-width="0.18" text-anchor="middle">*</text>
<polyline points="256.10,252.10 256.10,250.50 281.20,250.50 281.20,252.10" fill="none" stroke="#1a1a1a" stroke-width="1.1"/>
<text x="265.3" y="252.71" font-size="9.8" font-weight="bold" fill="#000" stroke="#000" stroke-width="0.18" text-anchor="middle">*</text>
<text x="269.8" y="252.71" font-size="9.8" font-weight="bold" fill="#000" stroke="#000" stroke-width="0.18" text-anchor="middle">*</text>
<text x="254.6" y="230.6" font-size="11.4" font-weight="bold" fill="#000" stroke="#000" stroke-width="0.18">TG(48:0e)</text>
<line x1="342.2" y1="254.8" x2="342.2" y2="346.90000000000003" stroke="#000" stroke-width="1.4"/>
<line x1="339.9" y1="346.3" x2="413.2" y2="346.3" stroke="#000" stroke-width="1.4"/>
<text x="335.6" y="349.2" font-size="8.2" font-weight="bold" fill="#000" stroke="#000" stroke-width="0.18" text-anchor="end" textLength="4.2" lengthAdjust="spacingAndGlyphs">0</text>
<line x1="339.9" y1="328.0" x2="342.2" y2="328.0" stroke="#000" stroke-width="1.4"/>
<text x="335.6" y="330.9" font-size="8.2" font-weight="bold" fill="#000" stroke="#000" stroke-width="0.18" text-anchor="end" textLength="4.2" lengthAdjust="spacingAndGlyphs">1</text>
<line x1="339.9" y1="309.7" x2="342.2" y2="309.7" stroke="#000" stroke-width="1.4"/>
<text x="335.6" y="312.6" font-size="8.2" font-weight="bold" fill="#000" stroke="#000" stroke-width="0.18" text-anchor="end" textLength="4.2" lengthAdjust="spacingAndGlyphs">2</text>
<line x1="339.9" y1="291.4" x2="342.2" y2="291.4" stroke="#000" stroke-width="1.4"/>
<text x="335.6" y="294.3" font-size="8.2" font-weight="bold" fill="#000" stroke="#000" stroke-width="0.18" text-anchor="end" textLength="4.2" lengthAdjust="spacingAndGlyphs">3</text>
<line x1="339.9" y1="273.1" x2="342.2" y2="273.1" stroke="#000" stroke-width="1.4"/>
<text x="335.6" y="276.0" font-size="8.2" font-weight="bold" fill="#000" stroke="#000" stroke-width="0.18" text-anchor="end" textLength="4.2" lengthAdjust="spacingAndGlyphs">4</text>
<line x1="339.9" y1="254.8" x2="342.2" y2="254.8" stroke="#000" stroke-width="1.4"/>
<text x="335.6" y="257.7" font-size="8.2" font-weight="bold" fill="#000" stroke="#000" stroke-width="0.18" text-anchor="end" textLength="4.2" lengthAdjust="spacingAndGlyphs">5</text>
<line x1="354.5" y1="325.5" x2="354.5" y2="325.5" stroke="#222" stroke-width="1"/>
<line x1="354.5" y1="331.5" x2="354.5" y2="334.5" stroke="#222" stroke-width="1"/>
<line x1="352.2" y1="325.5" x2="356.8" y2="325.5" stroke="#222" stroke-width="1"/>
<line x1="352.2" y1="334.5" x2="356.8" y2="334.5" stroke="#222" stroke-width="1"/>
<rect x="345.50" y="325.50" width="18.00" height="6.00" fill="#ffffff" stroke="#222" stroke-width="1"/>
<line x1="345.5" y1="326.5" x2="363.5" y2="326.5" stroke="#333" stroke-width="1"/>
<line x1="378.5" y1="284.5" x2="378.5" y2="285.5" stroke="#222" stroke-width="1"/>
<line x1="378.5" y1="293.5" x2="378.5" y2="300.5" stroke="#222" stroke-width="1"/>
<line x1="376.2" y1="284.5" x2="380.8" y2="284.5" stroke="#222" stroke-width="1"/>
<line x1="376.2" y1="300.5" x2="380.8" y2="300.5" stroke="#222" stroke-width="1"/>
<rect x="369.50" y="285.50" width="18.00" height="8.00" fill="#5a5a5a" stroke="#222" stroke-width="1"/>
<line x1="369.5" y1="286.5" x2="387.5" y2="286.5" stroke="#1a1a1a" stroke-width="1"/>
<line x1="401.5" y1="286.5" x2="401.5" y2="293.5" stroke="#222" stroke-width="1"/>
<line x1="401.5" y1="300.5" x2="401.5" y2="302.5" stroke="#222" stroke-width="1"/>
<line x1="399.2" y1="286.5" x2="403.8" y2="286.5" stroke="#222" stroke-width="1"/>
<line x1="399.2" y1="302.5" x2="403.8" y2="302.5" stroke="#222" stroke-width="1"/>
<rect x="392.50" y="293.50" width="18.00" height="7.00" fill="#a8a8a8" stroke="#222" stroke-width="1"/>
<line x1="392.5" y1="295.5" x2="410.5" y2="295.5" stroke="#555" stroke-width="1"/>
<polyline points="354.20,241.10 354.20,239.50 404.50,239.50 404.50,241.10" fill="none" stroke="#1a1a1a" stroke-width="1.1"/>
<text x="378.35" y="241.61" font-size="9.8" font-weight="bold" fill="#000" stroke="#000" stroke-width="0.18" text-anchor="middle">*</text>
<text x="382.85" y="241.61" font-size="9.8" font-weight="bold" fill="#000" stroke="#000" stroke-width="0.18" text-anchor="middle">*</text>
<polyline points="354.70,253.10 354.70,251.50 379.80,251.50 379.80,253.10" fill="none" stroke="#1a1a1a" stroke-width="1.1"/>
<text x="365.3" y="253.31" font-size="9.8" font-weight="bold" fill="#000" stroke="#000" stroke-width="0.18" text-anchor="middle">*</text>
<text x="369.8" y="253.31" font-size="9.8" font-weight="bold" fill="#000" stroke="#000" stroke-width="0.18" text-anchor="middle">*</text>
<text x="336.2" y="230.6" font-size="11.55" font-weight="bold" fill="#000" stroke="#000" stroke-width="0.18">Cer(d18:1/18:0)</text>
<line x1="445.9" y1="254.8" x2="445.9" y2="346.90000000000003" stroke="#000" stroke-width="1.4"/>
<line x1="443.59999999999997" y1="346.3" x2="516.9" y2="346.3" stroke="#000" stroke-width="1.4"/>
<text x="439.3" y="349.2" font-size="8.2" font-weight="bold" fill="#000" stroke="#000" stroke-width="0.18" text-anchor="end" textLength="4.2" lengthAdjust="spacingAndGlyphs">0</text>
<line x1="443.59999999999997" y1="328.0" x2="445.9" y2="328.0" stroke="#000" stroke-width="1.4"/>
<text x="439.3" y="330.9" font-size="8.2" font-weight="bold" fill="#000" stroke="#000" stroke-width="0.18" text-anchor="end" textLength="4.2" lengthAdjust="spacingAndGlyphs">1</text>
<line x1="443.59999999999997" y1="309.7" x2="445.9" y2="309.7" stroke="#000" stroke-width="1.4"/>
<text x="439.3" y="312.6" font-size="8.2" font-weight="bold" fill="#000" stroke="#000" stroke-width="0.18" text-anchor="end" textLength="4.2" lengthAdjust="spacingAndGlyphs">2</text>
<line x1="443.59999999999997" y1="291.4" x2="445.9" y2="291.4" stroke="#000" stroke-width="1.4"/>
<text x="439.3" y="294.3" font-size="8.2" font-weight="bold" fill="#000" stroke="#000" stroke-width="0.18" text-anchor="end" textLength="4.2" lengthAdjust="spacingAndGlyphs">3</text>
<line x1="443.59999999999997" y1="273.1" x2="445.9" y2="273.1" stroke="#000" stroke-width="1.4"/>
<text x="439.3" y="276.0" font-size="8.2" font-weight="bold" fill="#000" stroke="#000" stroke-width="0.18" text-anchor="end" textLength="4.2" lengthAdjust="spacingAndGlyphs">4</text>
<line x1="443.59999999999997" y1="254.8" x2="445.9" y2="254.8" stroke="#000" stroke-width="1.4"/>
<text x="439.3" y="257.7" font-size="8.2" font-weight="bold" fill="#000" stroke="#000" stroke-width="0.18" text-anchor="end" textLength="4.2" lengthAdjust="spacingAndGlyphs">5</text>
<line x1="457.5" y1="325.5" x2="457.5" y2="328.5" stroke="#222" stroke-width="1"/>
<line x1="457.5" y1="329.5" x2="457.5" y2="331.5" stroke="#222" stroke-width="1"/>
<line x1="455.2" y1="325.5" x2="459.8" y2="325.5" stroke="#222" stroke-width="1"/>
<line x1="455.2" y1="331.5" x2="459.8" y2="331.5" stroke="#222" stroke-width="1"/>
<rect x="448.50" y="328.50" width="18.00" height="1.00" fill="#111" stroke="#222" stroke-width="1"/>
<line x1="448.5" y1="328.5" x2="466.5" y2="328.5" stroke="#333" stroke-width="1"/>
<line x1="481.5" y1="295.5" x2="481.5" y2="297.5" stroke="#222" stroke-width="1"/>
<line x1="481.5" y1="304.5" x2="481.5" y2="309.5" stroke="#222" stroke-width="1"/>
<line x1="479.2" y1="295.5" x2="483.8" y2="295.5" stroke="#222" stroke-width="1"/>
<line x1="479.2" y1="309.5" x2="483.8" y2="309.5" stroke="#222" stroke-width="1"/>
<rect x="472.50" y="297.50" width="18.00" height="7.00" fill="#5a5a5a" stroke="#222" stroke-width="1"/>
<line x1="472.5" y1="300.5" x2="490.5" y2="300.5" stroke="#1a1a1a" stroke-width="1"/>
<line x1="505.5" y1="274.5" x2="505.5" y2="277.5" stroke="#222" stroke-width="1"/>
<line x1="505.5" y1="290.5" x2="505.5" y2="293.5" stroke="#222" stroke-width="1"/>
<line x1="503.2" y1="274.5" x2="507.8" y2="274.5" stroke="#222" stroke-width="1"/>
<line x1="503.2" y1="293.5" x2="507.8" y2="293.5" stroke="#222" stroke-width="1"/>
<rect x="495.50" y="277.50" width="19.00" height="13.00" fill="#a8a8a8" stroke="#222" stroke-width="1"/>
<line x1="495.5" y1="285.5" x2="514.5" y2="285.5" stroke="#555" stroke-width="1"/>
<polyline points="457.40,241.10 457.40,239.50 507.50,239.50 507.50,241.10" fill="none" stroke="#1a1a1a" stroke-width="1.1"/>
<text x="479.4" y="241.61" font-size="9.8" font-weight="bold" fill="#000" stroke="#000" stroke-width="0.18" text-anchor="middle">*</text>
<text x="483.9" y="241.61" font-size="9.8" font-weight="bold" fill="#000" stroke="#000" stroke-width="0.18" text-anchor="middle">*</text>
<polyline points="457.40,253.10 457.40,251.50 482.80,251.50 482.80,253.10" fill="none" stroke="#1a1a1a" stroke-width="1.1"/>
<text x="468.6" y="253.31" font-size="9.8" font-weight="bold" fill="#000" stroke="#000" stroke-width="0.18" text-anchor="middle">*</text>
<text x="473.1" y="253.31" font-size="9.8" font-weight="bold" fill="#000" stroke="#000" stroke-width="0.18" text-anchor="middle">*</text>
<text x="438.6" y="230.6" font-size="11.3" font-weight="bold" fill="#000" stroke="#000" stroke-width="0.18">Cer(d18:1/22:0)</text>
<line x1="546.2" y1="255.9" x2="546.2" y2="347.40000000000003" stroke="#000" stroke-width="1.4"/>
<line x1="543.9000000000001" y1="346.8" x2="617.2" y2="346.8" stroke="#000" stroke-width="1.4"/>
<text x="539.6" y="349.7" font-size="8.2" font-weight="bold" fill="#000" stroke="#000" stroke-width="0.18" text-anchor="end" textLength="4.2" lengthAdjust="spacingAndGlyphs">0</text>
<line x1="543.9000000000001" y1="328.62" x2="546.2" y2="328.62" stroke="#000" stroke-width="1.4"/>
<text x="539.6" y="331.52" font-size="8.2" font-weight="bold" fill="#000" stroke="#000" stroke-width="0.18" text-anchor="end" textLength="4.2" lengthAdjust="spacingAndGlyphs">1</text>
<line x1="543.9000000000001" y1="310.44" x2="546.2" y2="310.44" stroke="#000" stroke-width="1.4"/>
<text x="539.6" y="313.34" font-size="8.2" font-weight="bold" fill="#000" stroke="#000" stroke-width="0.18" text-anchor="end" textLength="4.2" lengthAdjust="spacingAndGlyphs">2</text>
<line x1="543.9000000000001" y1="292.26" x2="546.2" y2="292.26" stroke="#000" stroke-width="1.4"/>
<text x="539.6" y="295.16" font-size="8.2" font-weight="bold" fill="#000" stroke="#000" stroke-width="0.18" text-anchor="end" textLength="4.2" lengthAdjust="spacingAndGlyphs">3</text>
<line x1="543.9000000000001" y1="274.08000000000004" x2="546.2" y2="274.08000000000004" stroke="#000" stroke-width="1.4"/>
<text x="539.6" y="276.98" font-size="8.2" font-weight="bold" fill="#000" stroke="#000" stroke-width="0.18" text-anchor="end" textLength="4.2" lengthAdjust="spacingAndGlyphs">4</text>
<line x1="543.9000000000001" y1="255.9" x2="546.2" y2="255.9" stroke="#000" stroke-width="1.4"/>
<text x="539.6" y="258.8" font-size="8.2" font-weight="bold" fill="#000" stroke="#000" stroke-width="0.18" text-anchor="end" textLength="4.2" lengthAdjust="spacingAndGlyphs">5</text>
<line x1="559.5" y1="292.5" x2="559.5" y2="296.5" stroke="#222" stroke-width="1"/>
<line x1="559.5" y1="304.5" x2="559.5" y2="316.5" stroke="#222" stroke-width="1"/>
<line x1="557.2" y1="292.5" x2="561.8" y2="292.5" stroke="#222" stroke-width="1"/>
<line x1="557.2" y1="316.5" x2="561.8" y2="316.5" stroke="#222" stroke-width="1"/>
<rect x="549.50" y="296.50" width="19.00" height="8.00" fill="#ffffff" stroke="#222" stroke-width="1"/>
<line x1="549.5" y1="298.5" x2="568.5" y2="298.5" stroke="#333" stroke-width="1"/>
<line x1="582.5" y1="328.5" x2="582.5" y2="328.5" stroke="#222" stroke-width="1"/>
<line x1="582.5" y1="329.5" x2="582.5" y2="329.5" stroke="#222" stroke-width="1"/>
<line x1="580.2" y1="328.5" x2="584.8" y2="328.5" stroke="#222" stroke-width="1"/>
<line x1="580.2" y1="329.5" x2="584.8" y2="329.5" stroke="#222" stroke-width="1"/>
<rect x="572.50" y="328.50" width="19.00" height="1.00" fill="#111" stroke="#222" stroke-width="1"/>
<line x1="572.5" y1="329.5" x2="591.5" y2="329.5" stroke="#1a1a1a" stroke-width="1"/>
<rect x="580.50" y="327.50" width="4.0" height="4.0" fill="#111"/>
<line x1="605.5" y1="322.5" x2="605.5" y2="324.5" stroke="#222" stroke-width="1"/>
<line x1="605.5" y1="331.5" x2="605.5" y2="331.5" stroke="#222" stroke-width="1"/>
<line x1="603.2" y1="322.5" x2="607.8" y2="322.5" stroke="#222" stroke-width="1"/>
<line x1="603.2" y1="331.5" x2="607.8" y2="331.5" stroke="#222" stroke-width="1"/>
<rect x="596.50" y="324.50" width="18.00" height="7.00" fill="#a8a8a8" stroke="#222" stroke-width="1"/>
<line x1="596.5" y1="330.5" x2="614.5" y2="330.5" stroke="#555" stroke-width="1"/>
<rect x="603.50" y="329.70" width="4.0" height="1.6" fill="#111"/>
<polyline points="556.30,242.10 556.30,240.50 606.40,240.50 606.40,242.10" fill="none" stroke="#1a1a1a" stroke-width="1.1"/>
<text x="580.3" y="242.21" font-size="9.8" font-weight="bold" fill="#000" stroke="#000" stroke-width="0.18" text-anchor="middle">*</text>
<text x="584.8" y="242.21" font-size="9.8" font-weight="bold" fill="#000" stroke="#000" stroke-width="0.18" text-anchor="middle">*</text>
<polyline points="556.80,253.10 556.80,251.50 581.90,251.50 581.90,253.10" fill="none" stroke="#1a1a1a" stroke-width="1.1"/>
<text x="567.4" y="253.51" font-size="9.8" font-weight="bold" fill="#000" stroke="#000" stroke-width="0.18" text-anchor="middle">*</text>
<text x="571.9" y="253.51" font-size="9.8" font-weight="bold" fill="#000" stroke="#000" stroke-width="0.18" text-anchor="middle">*</text>
<text x="549.5" y="230.6" font-size="11.4" font-weight="bold" fill="#000" stroke="#000" stroke-width="0.18">DG(18:1/18:2)</text>
<line x1="646.0" y1="255.9" x2="646.0" y2="347.40000000000003" stroke="#000" stroke-width="1.4"/>
<line x1="643.7" y1="346.8" x2="717.0" y2="346.8" stroke="#000" stroke-width="1.4"/>
<text x="639.4" y="349.7" font-size="8.2" font-weight="bold" fill="#000" stroke="#000" stroke-width="0.18" text-anchor="end" textLength="4.2" lengthAdjust="spacingAndGlyphs">0</text>
<line x1="643.7" y1="328.62" x2="646.0" y2="328.62" stroke="#000" stroke-width="1.4"/>
<text x="639.4" y="331.52" font-size="8.2" font-weight="bold" fill="#000" stroke="#000" stroke-width="0.18" text-anchor="end" textLength="4.2" lengthAdjust="spacingAndGlyphs">1</text>
<line x1="643.7" y1="310.44" x2="646.0" y2="310.44" stroke="#000" stroke-width="1.4"/>
<text x="639.4" y="313.34" font-size="8.2" font-weight="bold" fill="#000" stroke="#000" stroke-width="0.18" text-anchor="end" textLength="4.2" lengthAdjust="spacingAndGlyphs">2</text>
<line x1="643.7" y1="292.26" x2="646.0" y2="292.26" stroke="#000" stroke-width="1.4"/>
<text x="639.4" y="295.16" font-size="8.2" font-weight="bold" fill="#000" stroke="#000" stroke-width="0.18" text-anchor="end" textLength="4.2" lengthAdjust="spacingAndGlyphs">3</text>
<line x1="643.7" y1="274.08000000000004" x2="646.0" y2="274.08000000000004" stroke="#000" stroke-width="1.4"/>
<text x="639.4" y="276.98" font-size="8.2" font-weight="bold" fill="#000" stroke="#000" stroke-width="0.18" text-anchor="end" textLength="4.2" lengthAdjust="spacingAndGlyphs">4</text>
<line x1="643.7" y1="255.9" x2="646.0" y2="255.9" stroke="#000" stroke-width="1.4"/>
<text x="639.4" y="258.8" font-size="8.2" font-weight="bold" fill="#000" stroke="#000" stroke-width="0.18" text-anchor="end" textLength="4.2" lengthAdjust="spacingAndGlyphs">5</text>
<line x1="659.5" y1="290.5" x2="659.5" y2="292.5" stroke="#222" stroke-width="1"/>
<line x1="659.5" y1="300.5" x2="659.5" y2="302.5" stroke="#222" stroke-width="1"/>
<line x1="657.2" y1="290.5" x2="661.8" y2="290.5" stroke="#222" stroke-width="1"/>
<line x1="657.2" y1="302.5" x2="661.8" y2="302.5" stroke="#222" stroke-width="1"/>
<rect x="649.50" y="292.50" width="19.00" height="8.00" fill="#ffffff" stroke="#222" stroke-width="1"/>
<line x1="649.5" y1="294.5" x2="668.5" y2="294.5" stroke="#333" stroke-width="1"/>
<line x1="682.5" y1="321.5" x2="682.5" y2="321.5" stroke="#222" stroke-width="1"/>
<line x1="682.5" y1="323.5" x2="682.5" y2="323.5" stroke="#222" stroke-width="1"/>
<line x1="680.2" y1="321.5" x2="684.8" y2="321.5" stroke="#222" stroke-width="1"/>
<line x1="680.2" y1="323.5" x2="684.8" y2="323.5" stroke="#222" stroke-width="1"/>
<rect x="673.50" y="321.50" width="18.00" height="2.00" fill="#5a5a5a" stroke="#222" stroke-width="1"/>
<line x1="673.5" y1="322.5" x2="691.5" y2="322.5" stroke="#1a1a1a" stroke-width="1"/>
<line x1="705.5" y1="324.5" x2="705.5" y2="327.5" stroke="#222" stroke-width="1"/>
<line x1="705.5" y1="331.5" x2="705.5" y2="331.5" stroke="#222" stroke-width="1"/>
<line x1="703.2" y1="324.5" x2="707.8" y2="324.5" stroke="#222" stroke-width="1"/>
<line x1="703.2" y1="331.5" x2="707.8" y2="331.5" stroke="#222" stroke-width="1"/>
<rect x="696.50" y="327.50" width="18.00" height="4.00" fill="#a8a8a8" stroke="#222" stroke-width="1"/>
<line x1="696.5" y1="330.5" x2="714.5" y2="330.5" stroke="#555" stroke-width="1"/>
<polyline points="657.40,242.10 657.40,240.50 707.50,240.50 707.50,242.10" fill="none" stroke="#1a1a1a" stroke-width="1.1"/>
<text x="679.55" y="242.41" font-size="9.8" font-weight="bold" fill="#000" stroke="#000" stroke-width="0.18" text-anchor="middle">*</text>
<text x="684.05" y="242.41" font-size="9.8" font-weight="bold" fill="#000" stroke="#000" stroke-width="0.18" text-anchor="middle">*</text>
<polyline points="658.10,253.10 658.10,251.50 683.00,251.50 683.00,253.10" fill="none" stroke="#1a1a1a" stroke-width="1.1"/>
<text x="671.3" y="253.51" font-size="9.8" font-weight="bold" fill="#000" stroke="#000" stroke-width="0.18" text-anchor="middle">*</text>
<text x="675.8" y="253.51" font-size="9.8" font-weight="bold" fill="#000" stroke="#000" stroke-width="0.18" text-anchor="middle">*</text>
<text x="652.4" y="230.6" font-size="11.4" font-weight="bold" fill="#000" stroke="#000" stroke-width="0.18">LPC(18:0p)</text>
<defs><clipPath id="cL"><ellipse cx="360.4" cy="98.8" rx="42.9" ry="38.8" /></clipPath><clipPath id="cR"><ellipse cx="377.8" cy="98.6" rx="38.8" ry="37.0" /></clipPath></defs>
<ellipse cx="360.4" cy="98.8" rx="42.9" ry="38.8" fill="#bebebe"/>
<ellipse cx="377.8" cy="98.6" rx="38.8" ry="37.0" fill="#bebebe"/>
<g clip-path="url(#cL)"><ellipse cx="377.8" cy="98.6" rx="38.8" ry="37.0" fill="#838383"/></g>
<g clip-path="url(#cL)"><ellipse cx="377.8" cy="98.6" rx="38.8" ry="37.0" fill="none" stroke="#fff" stroke-width="2.0"/></g>
<g clip-path="url(#cR)"><ellipse cx="360.4" cy="98.8" rx="42.9" ry="38.8" fill="none" stroke="#fff" stroke-width="2.0"/></g>
<text x="323.0" y="102.4" font-size="11.2" font-weight="bold" fill="#000" stroke="#000" stroke-width="0.18">37</text>
<text x="360.8" y="102.4" font-size="11.2" font-weight="bold" fill="#000" stroke="#000" stroke-width="0.18">44</text>
<text x="403.6" y="102.4" font-size="11.2" font-weight="bold" fill="#000" stroke="#000" stroke-width="0.18">25</text>
<line x1="369.0" y1="122.5" x2="369.0" y2="160.3" stroke="#222" stroke-width="1.1"/>
<text x="310.2" y="58.9" font-size="11.1" font-weight="bold" fill="#000" stroke="#000" stroke-width="0.18">Exon 9</text>
<text x="387.8" y="58.9" font-size="11.25" font-weight="bold" fill="#000" stroke="#000" stroke-width="0.18">Exon 20</text>
<polyline points="300.40,65.30 327.40,65.30 334.60,74.30" fill="none" stroke="#222" stroke-width="1.1"/>
<polyline points="441.20,65.00 413.10,65.00 400.40,78.20" fill="none" stroke="#222" stroke-width="1.1"/>
<text x="347.6" y="172.8" font-size="9.4" font-weight="bold" fill="#8a8a8a" stroke="#8a8a8a" stroke-width="0.18">UP</text>
<text x="365.8" y="172.8" font-size="9.4" font-weight="bold" fill="#000" stroke="#000" stroke-width="0.18">3 Cer,</text>
<text x="369.6" y="184.8" font-size="9.4" font-weight="bold" fill="#000" stroke="#000" stroke-width="0.18" text-anchor="middle">1 MHC, 1 GM3,</text>
<text x="370.6" y="195.7" font-size="9.4" font-weight="bold" fill="#000" stroke="#000" stroke-width="0.18" text-anchor="middle">2 PC, 1 PI, 28 TG</text>
<text x="300.8" y="212.0" font-size="9.4" font-weight="bold" fill="#8a8a8a" stroke="#8a8a8a" stroke-width="0.18">Down</text>
<text x="331.8" y="212.0" font-size="9.5" font-weight="bold" fill="#000" stroke="#000" stroke-width="0.18">1 DG, 3 LPC, 4 Ether PC</text>
</svg>
</body></html>
